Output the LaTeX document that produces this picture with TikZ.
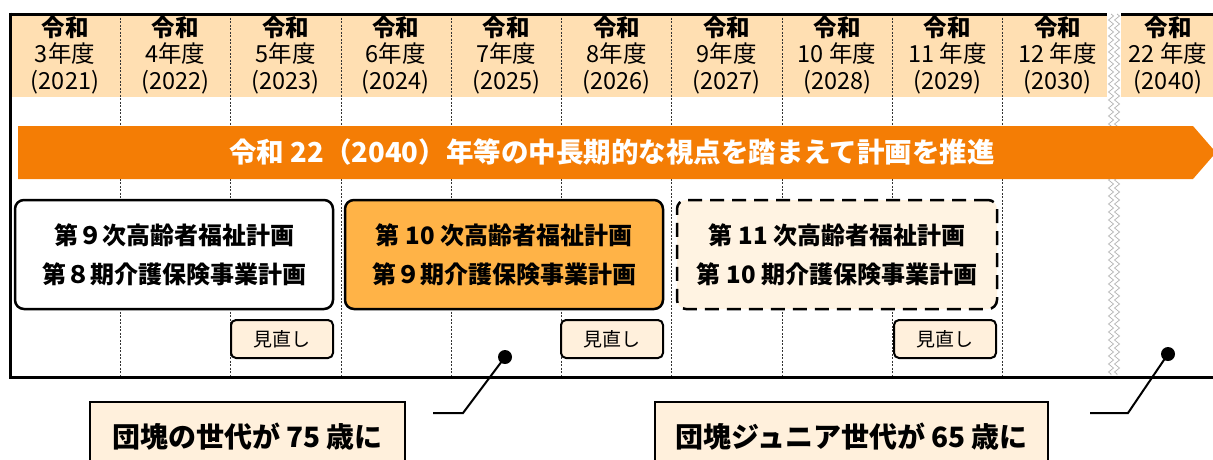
\documentclass[tikz,border=0pt]{standalone}
\usepackage{fontspec}
\setmainfont{Noto Sans CJK JP}
\usetikzlibrary{positioning, decorations.pathmorphing}
\definecolor{headfill}{HTML}{FFDFB2}
\definecolor{bandfill}{HTML}{F47D05}
\definecolor{nowfill}{HTML}{FFB347}
\definecolor{nextfill}{HTML}{FFF3E2}
\definecolor{notefill}{HTML}{FFF0DC}
\tikzset{
	x=1pt, y=-1pt, % 1 punto = 1 pixel de la imagen
	frameline/.style={line width=3pt}, % Marco de la tabla
	yearline/.style={line width=0.8pt, black!80, dash pattern=on 2pt off 1.5pt}, % Separadores de año
	yeartext/.style={align=center, font=\fontsize{23.5}{26.5}\selectfont, inner sep=0pt},
	planbox/.style={draw, line width=2.5pt, rounded corners=9pt, minimum height=109pt,
		align=center, font=\fontsize{24}{39}\selectfont\bfseries},
	revbox/.style={draw, line width=2pt, rounded corners=5pt, fill=notefill,
		minimum width=102pt, minimum height=38pt, font=\fontsize{19}{22}\selectfont},
	dotmark/.style={circle, fill=black, minimum size=14pt, inner sep=0pt},
	leader/.style={line width=2pt},
	notebox/.style={draw, line width=1.5pt, fill=notefill, minimum height=70pt,
		font=\fontsize{28}{32}\selectfont\bfseries}
}

\begin{document}
\begin{tikzpicture}
	\clip (0,0) rectangle (1213,459);
	% cabecera
	\fill[headfill] (10,14) rectangle (1215,97);
	\foreach \i in {1,...,9}
		\draw[yearline] (10+110.3*\i,14) -- (10+110.3*\i,377);
	% corte de la escala
	\fill[white] (1107,12) rectangle (1121,376);
	\foreach \x in {1111,1117}
		\draw[gray!60, line width=0.7pt, decorate, decoration={zigzag, segment length=8pt, amplitude=2.5pt}]
			(\x,14) -- (\x,375);
	\draw[frameline] (10,14) -- (1107,14) (1121,14) -- (1215,14);
	\draw[frameline] (10,12.5) -- (10,377) -- (1215,377);
	\foreach \n/\yr [count=\i from 0] in {3年度/2021, 4年度/2022, 5年度/2023, 6年度/2024,
			7年度/2025, 8年度/2026, 9年度/2027, 10 年度/2028, 11 年度/2029, 12 年度/2030, 22 年度/2040}
		\node[yeartext] (y\i) at (65+110.3*\i,55) {\textbf{令和}\\\n\\(\yr)};

	% flecha
	\fill[bandfill] (18,126) -- (1193,126) -- (1216,152.5) -- (1193,179) -- (18,179) -- cycle;
	\node[text=white, font=\fontsize{27.5}{30}\selectfont\bfseries] (goal) at (612,152.5)
		{令和 22（2040）年等の中長期的な視点を踏まえて計画を推進};

	% planes
	\node[planbox, fill=white, minimum width=318pt] (plan9) at (174,254.5)
		{第９次高齢者福祉計画\\第８期介護保険事業計画};
	\node[planbox, fill=nowfill, minimum width=318pt] (plan10) at (504,254.5)
		{第 10 次高齢者福祉計画\\第９期介護保険事業計画};
	\node[planbox, fill=nextfill, minimum width=320pt, dash pattern=on 14pt off 8pt] (plan11) at (837,254.5)
		{第 11 次高齢者福祉計画\\第 10 期介護保険事業計画};
	\node[revbox] (rev9) at (282,339) {見直し};
	\node[revbox] (rev10) at (612,339) {見直し};
	\node[revbox] (rev11) at (945,339) {見直し};

	% hitos
	\node[dotmark] (dot75) at (505,357) {};
	\node[dotmark] (dot65) at (1168,354) {};
	\coordinate (bend75) at (463,413);
	\coordinate (end75) at (433,413);
	\coordinate (bend65) at (1128,413);
	\coordinate (end65) at (1090,413);
	\draw[leader] (dot75.center) -- (bend75) -- (end75);
	\draw[leader] (dot65.center) -- (bend65) -- (end65);
	\node[notebox, minimum width=315pt] (note75) at (247.5,437) {団塊の世代が 75 歳に};
	\node[notebox, minimum width=393pt] (note65) at (851.5,437) {団塊ジュニア世代が 65 歳に};
\end{tikzpicture}
\end{document}
